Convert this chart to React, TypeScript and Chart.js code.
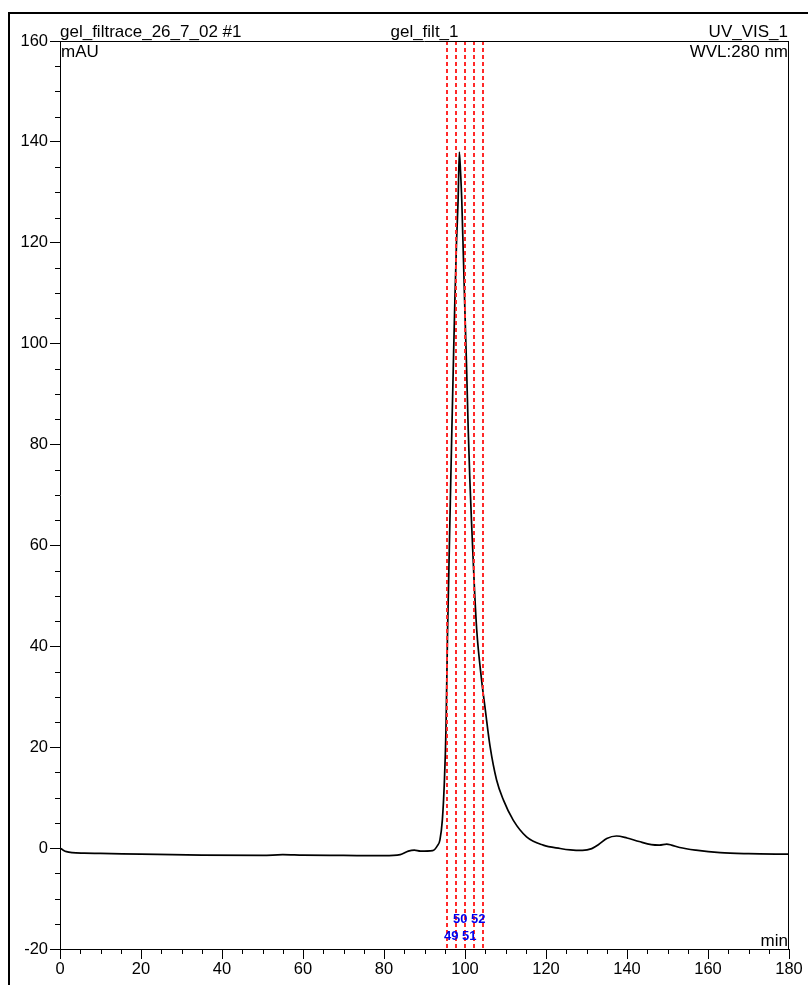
import React, { useEffect, useRef } from 'react';
import { Chart, registerables } from 'chart.js';

Chart.register(...registerables);

// Chromatogram trace (time in min, absorbance in mAU)
const timeMin = [
  0, 0.8, 1.6, 3, 6, 10, 20, 35, 50, 55, 60, 70, 80, 84, 86, 87.5, 89, 92,
  93.2, 93.8, 94.4, 94.9, 95.3, 95.7, 96.2, 96.7, 97.1, 97.5, 97.9, 98.3, 98.6,
  98.9, 99.2, 99.9, 100.4, 100.8, 101.2, 101.7, 102.3, 102.9, 104.1, 105, 106.2,
  107.8, 109.5, 111.9, 115.2, 119.3, 123.5, 126, 129, 131.3, 133, 135, 137.4,
  140, 143, 146, 148, 149.8, 151, 153, 157, 163, 170, 180,
];
const absorbance = [
  0, -0.4, -0.7, -0.9, -1.0, -1.05, -1.2, -1.4, -1.45, -1.3, -1.4, -1.45, -1.5,
  -1.3, -0.6, -0.4, -0.6, -0.5, 0.5, 1.6, 5.5, 13, 23.4, 43.2, 62, 80.9, 95,
  108.6, 120, 128.5, 138, 134, 128.5, 108.6, 95, 82.9, 73, 63, 52, 43.2, 33.3,
  27.5, 20.1, 13.5, 9.5, 5.55, 2.24, 0.6, -0.07, -0.35, -0.45, -0.1, 0.7, 1.9,
  2.4, 2.0, 1.3, 0.7, 0.6, 0.8, 0.6, 0.13, -0.4, -0.9, -1.1, -1.2,
];

// Fraction collector marks
const fractionBounds = [95.5, 97.7, 99.9, 102.15, 104.4];
const fractionLabels = ['49', '50', '51', '52'];

// Axis settings
const xMin = 0;
const xMax = 180;
const xStep = 20;
const yMin = -20;
const yMax = 160;
const yStep = 20;
const minorStep = 5;

// Texts
const headerLeft = 'gel_filtrace_26_7_02 #1';
const headerCenter = 'gel_filt_1';
const headerRight = 'UV_VIS_1';
const yUnit = 'mAU';
const wavelength = 'WVL:280 nm';
const xUnit = 'min';

const FONT = '"Liberation Sans", Arial, Helvetica, sans-serif';

const decorPlugin = {
  id: 'decor',
  afterDatasetsDraw(chart: any) {
    const { ctx, chartArea: a, scales } = chart;
    const x = scales.x;
    ctx.save();
    ctx.strokeStyle = '#ff2a2a';
    ctx.lineWidth = 2;
    ctx.setLineDash([4, 3]);
    fractionBounds.forEach((t) => {
      const px = Math.round(x.getPixelForValue(t));
      ctx.beginPath();
      ctx.moveTo(px, a.top);
      ctx.lineTo(px, a.bottom);
      ctx.stroke();
    });
    ctx.setLineDash([]);
    ctx.fillStyle = '#0000ee';
    ctx.font = 'bold 13px "Liberation Sans Narrow", "Liberation Sans", Arial, sans-serif';
    ctx.textAlign = 'center';
    ctx.textBaseline = 'alphabetic';
    fractionLabels.forEach((lab, i) => {
      const c = (fractionBounds[i] + fractionBounds[i + 1]) / 2;
      const py = i % 2 === 0 ? a.bottom - 9 : a.bottom - 26;
      ctx.fillText(lab, x.getPixelForValue(c), py);
    });
    ctx.restore();
  },
  afterDraw(chart: any) {
    const { ctx, chartArea: a, scales, width, height } = chart;
    const x = scales.x;
    const y = scales.y;
    ctx.save();
    ctx.strokeStyle = '#000';
    ctx.lineWidth = 1;
    // plot box top & right
    ctx.beginPath();
    ctx.moveTo(a.left, a.top + 0.5);
    ctx.lineTo(a.right, a.top + 0.5);
    ctx.moveTo(a.right - 0.5, a.top);
    ctx.lineTo(a.right - 0.5, a.bottom);
    ctx.stroke();
    // minor ticks
    ctx.beginPath();
    for (let v = yMin; v <= yMax; v += minorStep) {
      if (v % yStep === 0) continue;
      const py = Math.round(y.getPixelForValue(v)) + 0.5;
      ctx.moveTo(a.left - 5, py);
      ctx.lineTo(a.left, py);
    }
    for (let v = xMin; v <= xMax; v += minorStep) {
      if (v % xStep === 0) continue;
      const px = Math.round(x.getPixelForValue(v)) + 0.5;
      ctx.moveTo(px, a.bottom);
      ctx.lineTo(px, a.bottom + 5);
    }
    ctx.stroke();
    // texts
    ctx.fillStyle = '#000';
    ctx.font = `17px ${FONT}`;
    ctx.textBaseline = 'alphabetic';
    ctx.textAlign = 'left';
    ctx.fillText(headerLeft, a.left, a.top - 4);
    ctx.fillText(yUnit, a.left + 1, a.top + 15.5);
    ctx.textAlign = 'center';
    ctx.fillText(headerCenter, 424.5, a.top - 4);
    ctx.textAlign = 'right';
    ctx.fillText(headerRight, a.right - 1, a.top - 4);
    ctx.fillText(wavelength, a.right - 1, a.top + 15.5);
    ctx.fillText(xUnit, a.right - 1, a.bottom - 3.5);
    // outer frame
    ctx.fillRect(8, 12, 2, height - 12);
    ctx.fillRect(8, 12, width - 8, 2);
    ctx.restore();
  },
};

export default function App() {
  const canvasRef = useRef<HTMLCanvasElement | null>(null);

  useEffect(() => {
    const canvas = canvasRef.current;
    if (!canvas) return;
    const points = timeMin.map((t, i) => ({ x: t, y: absorbance[i] }));
    const tickFont = { family: FONT, size: 16.5 };
    const chart = new Chart(canvas, {
      type: 'line',
      data: {
        datasets: [
          {
            data: points,
            borderColor: '#000',
            borderWidth: 1.7,
            pointRadius: 0,
            fill: false,
            cubicInterpolationMode: 'monotone',
          },
        ],
      },
      options: {
        animation: false,
        responsive: false,
        maintainAspectRatio: false,
        layout: { padding: { left: 0, top: 41, right: 19, bottom: 0 } },
        plugins: {
          legend: { display: false },
          tooltip: { enabled: false },
          title: { display: false },
        },
        scales: {
          x: {
            type: 'linear',
            min: xMin,
            max: xMax,
            ticks: {
              stepSize: xStep,
              color: '#000',
              font: tickFont,
              padding: 1,
              maxRotation: 0,
              autoSkip: false,
            },
            grid: {
              drawOnChartArea: false,
              drawTicks: true,
              tickLength: 10,
              tickColor: '#000',
              tickWidth: 1,
            },
            border: { display: true, color: '#000', width: 1 },
            afterFit: (s: any) => {
              s.height = 36;
            },
          },
          y: {
            type: 'linear',
            min: yMin,
            max: yMax,
            ticks: {
              stepSize: yStep,
              color: '#000',
              font: tickFont,
              padding: 2,
              autoSkip: false,
            },
            grid: {
              drawOnChartArea: false,
              drawTicks: true,
              tickLength: 10,
              tickColor: '#000',
              tickWidth: 1,
            },
            border: { display: true, color: '#000', width: 1 },
            afterFit: (s: any) => {
              s.width = 60;
            },
          },
        },
      },
      plugins: [decorPlugin],
    } as any);
    return () => chart.destroy();
  }, []);

  return (
    <div style={{ position: 'absolute', left: 0, top: 0, width: 808, height: 985, background: '#fff' }}>
      <canvas ref={canvasRef} width={808} height={985} style={{ display: 'block', width: 808, height: 985 }} />
    </div>
  );
}
